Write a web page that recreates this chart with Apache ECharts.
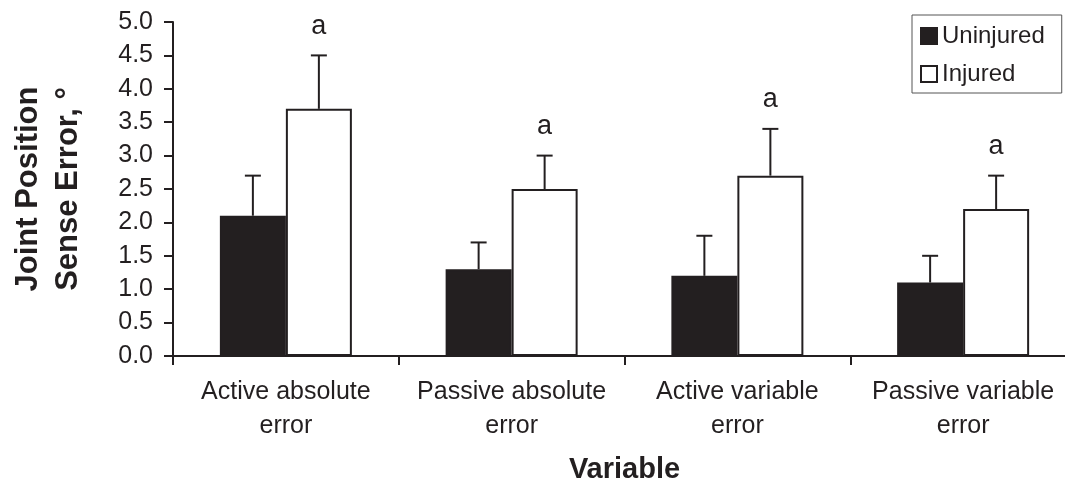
<!DOCTYPE html>
<html>
<head>
<meta charset="utf-8">
<script src="https://cdn.jsdelivr.net/npm/echarts@6/dist/echarts.min.js"></script>
<style>
html,body{margin:0;padding:0;background:#fff;overflow:hidden;width:1065px;height:490px;}
#chart{width:1090px;height:490px;}
</style>
</head>
<body>
<div id="chart"></div>
<script>
var categories = ['Active absolute\nerror', 'Passive absolute\nerror', 'Active variable\nerror', 'Passive variable\nerror'];
var uninjured = [2.1, 1.3, 1.2, 1.1];
var uninjuredErrTop = [2.7, 1.7, 1.8, 1.5];
var injured = [3.7, 2.5, 2.7, 2.2];
var injuredErrTop = [4.5, 3.0, 3.4, 2.7];
var sigLabels = ['a', 'a', 'a', 'a'];
var yTicks = [0, 0.5, 1.0, 1.5, 2.0, 2.5, 3.0, 3.5, 4.0, 4.5, 5.0];

var INK = '#231f20';
var FONT = '"Liberation Sans", Arial, Helvetica, sans-serif';
var BAR_W = 66;

function errData(base, top) {
  return base.map(function (v, i) { return [i, v, top[i]]; });
}

function makeErrRender(offset, showLabel) {
  return function (params, api) {
    var i = api.value(0);
    var p1 = api.coord([i, api.value(1)]);
    var p2 = api.coord([i, api.value(2)]);
    var x = p1[0] + offset;
    var children = [
      { type: 'line', shape: { x1: x, y1: p1[1], x2: x, y2: p2[1] }, style: { stroke: INK, lineWidth: 2 } },
      { type: 'line', shape: { x1: x - 8, y1: p2[1], x2: x + 8, y2: p2[1] }, style: { stroke: INK, lineWidth: 2 } }
    ];
    if (showLabel) {
      children.push({
        type: 'text',
        style: {
          text: sigLabels[params.dataIndex], x: x, y: p2[1] - 29,
          textAlign: 'center', textVerticalAlign: 'middle',
          fontSize: 27, fontFamily: FONT, fill: INK
        }
      });
    }
    return { type: 'group', children: children };
  };
}

var chart = echarts.init(document.getElementById('chart'));
chart.setOption({
  animation: false,
  backgroundColor: '#fff',
  grid: { left: 170, top: 22, width: 906, height: 334, containLabel: false },
  legend: {
    orient: 'vertical',
    left: 912, top: 15,
    data: ['Uninjured', 'Injured'],
    icon: 'rect',
    itemWidth: 16, itemHeight: 16,
    itemGap: 14,
    padding: [9, 17, 7, 8],
    borderColor: '#555', borderWidth: 1,
    textStyle: { fontSize: 24, fontFamily: FONT, color: INK }
  },
  xAxis: {
    type: 'category',
    data: categories,
    boundaryGap: true,
    axisLine: { lineStyle: { color: INK, width: 2 } },
    axisTick: { show: true, length: 9, lineStyle: { color: INK, width: 2 } },
    axisLabel: { interval: 0, fontSize: 25, lineHeight: 34, margin: 19, color: INK, fontFamily: FONT },
    name: 'Variable',
    nameLocation: 'middle',
    nameGap: 114,
    nameTextStyle: { fontSize: 29, fontWeight: 'bold', color: INK, fontFamily: FONT, verticalAlign: 'middle' }
  },
  yAxis: {
    type: 'value',
    min: 0, max: 5, interval: 0.5,
    axisLine: { show: true, lineStyle: { color: INK, width: 2 } },
    axisTick: { show: true, length: 9, lineStyle: { color: INK, width: 2 } },
    splitLine: { show: false },
    axisLabel: {
      fontSize: 25, margin: 20, color: INK, fontFamily: FONT,
      formatter: function (v) { return yTicks.indexOf(v) >= 0 ? v.toFixed(1) : ''; }
    },
    name: 'Joint Position\nSense Error, °',
    nameLocation: 'middle',
    nameRotate: 90,
    nameGap: 125,
    nameTextStyle: { fontSize: 31, fontWeight: 'bold', lineHeight: 40, color: INK, fontFamily: FONT, verticalAlign: 'middle' }
  },
  series: [
    {
      name: 'Uninjured', type: 'bar', data: uninjured,
      barWidth: BAR_W, barGap: '0%',
      itemStyle: { color: INK, borderColor: INK, borderWidth: 2 }
    },
    {
      name: 'Injured', type: 'bar', data: injured,
      barWidth: BAR_W, barGap: '0%',
      itemStyle: { color: '#fff', borderColor: INK, borderWidth: 2 }
    },
    {
      type: 'custom', name: 'errU', data: errData(uninjured, uninjuredErrTop),
      renderItem: makeErrRender(-BAR_W / 2, false), z: 5, silent: true
    },
    {
      type: 'custom', name: 'errI', data: errData(injured, injuredErrTop),
      renderItem: makeErrRender(BAR_W / 2, true), z: 5, silent: true
    }
  ]
});
</script>
</body>
</html>
